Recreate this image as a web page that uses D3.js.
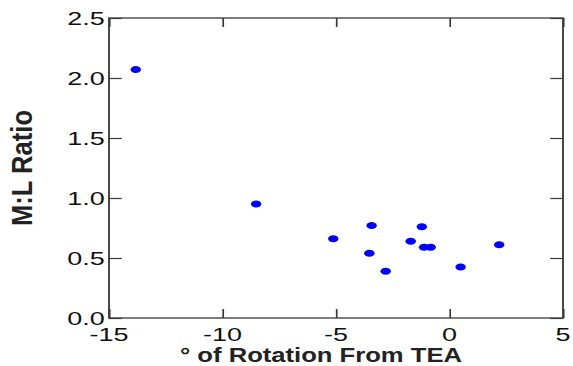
<!DOCTYPE html>
<html>
<head>
<meta charset="utf-8">
<script src="https://cdn.jsdelivr.net/npm/d3@7"></script>
<style>
  html, body { margin: 0; padding: 0; background: #fff; }
  svg { display: block; font-family: "Liberation Sans", Arial, sans-serif; }
</style>
</head>
<body>
<div id="chart"></div>
<script>
// rotation (deg) from TEA vs M:L ratio
const rotation = [-13.82, -8.52, -5.12, -3.43, -3.53, -2.81, -1.71, -1.22, -1.12, -0.83, 0.49, 2.19];
const mlRatio  = [2.07, 0.95, 0.66, 0.77, 0.54, 0.39, 0.64, 0.76, 0.59, 0.59, 0.425, 0.61];
const xTicks = [-15, -10, -5, 0, 5];
const yTicks = [0, 0.5, 1, 1.5, 2, 2.5];

const W = 573, H = 366;
const sx = 1.42; // the picture is stretched sideways
const plotL = 109, plotR = 563, plotT = 18, plotB = 318;

const svg = d3.select('#chart').append('svg')
  .attr('width', W).attr('height', H);

const g = svg.append('g').attr('transform', `scale(${sx},1)`);

const x = d3.scaleLinear().domain([-15, 5]).range([plotL / sx, plotR / sx]);
const y = d3.scaleLinear().domain([0, 2.5]).range([plotB, plotT]);

const axisColor = '#3a3a3a';
const tickLen = 9;

function styleAxis(sel) {
  sel.select('.domain').remove();
  sel.selectAll('line').attr('stroke', axisColor).attr('stroke-width', 1.2);
  sel.selectAll('text').remove();
}

g.append('g').attr('transform', `translate(0,${plotB})`)
  .call(d3.axisBottom(x).tickValues(xTicks).tickSizeInner(-tickLen).tickSizeOuter(0))
  .call(styleAxis);
g.append('g').attr('transform', `translate(0,${plotT})`)
  .call(d3.axisTop(x).tickValues(xTicks).tickSizeInner(-tickLen).tickSizeOuter(0))
  .call(styleAxis);
g.append('g').attr('transform', `translate(${plotL / sx},0)`)
  .call(d3.axisLeft(y).tickValues(yTicks).tickSizeInner(-tickLen).tickSizeOuter(0))
  .call(styleAxis);
g.append('g').attr('transform', `translate(${plotR / sx},0)`)
  .call(d3.axisRight(y).tickValues(yTicks).tickSizeInner(-tickLen).tickSizeOuter(0))
  .call(styleAxis);

// frame
g.append('rect')
  .attr('x', x(-15)).attr('y', y(2.5))
  .attr('width', x(5) - x(-15)).attr('height', y(0) - y(2.5))
  .attr('fill', 'none').attr('stroke', axisColor).attr('stroke-width', 1.3);

// tick labels
g.selectAll('.xl').data(xTicks).join('text')
  .attr('x', d => x(d)).attr('y', plotB + 23)
  .attr('text-anchor', 'middle')
  .attr('font-size', 19).attr('fill', '#111')
  .text(d => d < 0 ? '-' + Math.abs(d) : d);

g.selectAll('.yl').data(yTicks).join('text')
  .attr('x', plotL / sx - 3).attr('y', d => y(d))
  .attr('dy', '0.38em')
  .attr('text-anchor', 'end')
  .attr('font-size', 19).attr('fill', '#111')
  .text(d => d.toFixed(1));

// dots
g.selectAll('ellipse').data(rotation.map((r, i) => [r, mlRatio[i]])).join('ellipse')
  .attr('cx', d => x(d[0])).attr('cy', d => y(d[1]))
  .attr('rx', 3.7).attr('ry', 3.5)
  .attr('fill', '#0000ff');

// axis titles
g.append('text')
  .attr('x', 180 / sx).attr('y', 362)
  .attr('font-size', 21).attr('font-weight', 'bold').attr('fill', '#222')
  .attr('textLength', 282 / sx).attr('lengthAdjust', 'spacingAndGlyphs')
  .text('° of Rotation From TEA');

g.append('text')
  .attr('transform', `translate(${32 / sx},${(plotT + plotB) / 2}) rotate(-90)`)
  .attr('text-anchor', 'middle')
  .attr('font-size', 21).attr('font-weight', 'bold').attr('fill', '#222')
  .attr('textLength', 116).attr('lengthAdjust', 'spacingAndGlyphs')
  .text('M:L Ratio');
</script>
</body>
</html>
